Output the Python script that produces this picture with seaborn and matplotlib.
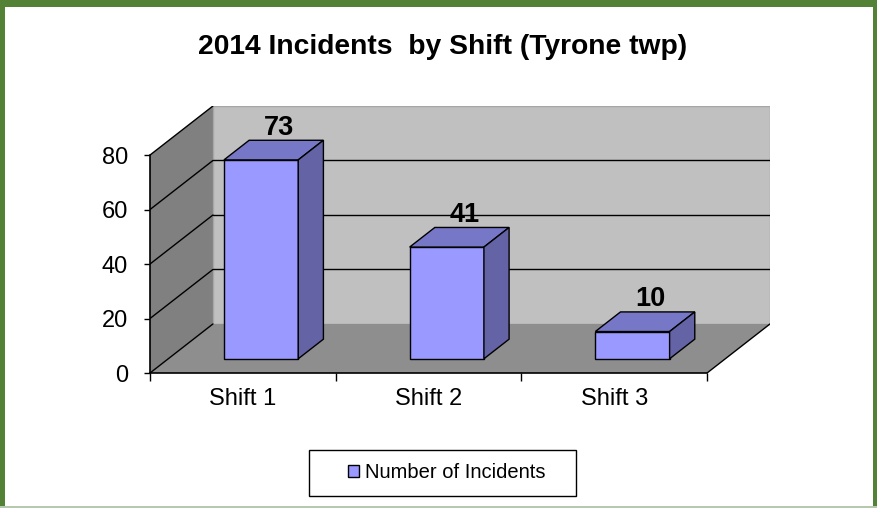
import matplotlib
matplotlib.use("Agg")
import matplotlib.pyplot as plt
from matplotlib.patches import Polygon, Rectangle
import pandas as pd
import seaborn as sns

# Data
shifts = ["Shift 1", "Shift 2", "Shift 3"]
incidents = [73, 41, 10]
y_ticks = [0, 20, 40, 60, 80]
title = "2014 Incidents  by Shift (Tyrone twp)"
series_name = "Number of Incidents"

sns.set_theme(style="white")
plt.rcParams["font.family"] = ["Liberation Sans", "DejaVu Sans"]
plt.rcParams["text.color"] = "black"

df = pd.DataFrame({"Shift": shifts, "Incidents": incidents})

W, H = 878, 508
fig = plt.figure(figsize=(W / 100, H / 100), dpi=100)
ax = fig.add_axes([150 / W, (H - 373) / H, 620 / W, (373 - 106) / H])
ax.set_facecolor("none")

# oblique depth of the fake 3d box, in data units
DX, DY = 0.339, 18.0
ymax = y_ticks[-1]

sns.barplot(data=df, x="Shift", y="Incidents", width=0.4, color="#9999FF",
            saturation=1, edgecolor="black", linewidth=1, label=series_name,
            ax=ax, zorder=3)
bars = list(ax.patches)
handles, labels = ax.get_legend_handles_labels()
if ax.get_legend() is not None:
    ax.get_legend().remove()

# bars sit between these depth fractions
d0, d1 = 0.29, 0.69
ddx, ddy = (d1 - d0) * DX, (d1 - d0) * DY
for p in bars:
    x0 = p.get_x() + d0 * DX
    y0 = d0 * DY
    p.set_x(x0)
    p.set_y(y0)
    w, h = p.get_width(), p.get_height()
    top = Polygon([(x0, y0 + h), (x0 + w, y0 + h), (x0 + w + ddx, y0 + h + ddy),
                   (x0 + ddx, y0 + h + ddy)], fc="#7777C8", ec="black", lw=1, zorder=3)
    side = Polygon([(x0 + w, y0), (x0 + w + ddx, y0 + ddy), (x0 + w + ddx, y0 + h + ddy),
                    (x0 + w, y0 + h)], fc="#6363A5", ec="black", lw=1, zorder=3)
    ax.add_patch(top)
    ax.add_patch(side)
    ax.text(x0 + w / 2 + ddx * 0.7, y0 + h + ddy + 2, f"{h:.0f}", ha="center", va="baseline",
            fontsize=19.5, fontweight="bold", color="black", zorder=4)

# walls and floor
x_l, x_r = -0.5, len(shifts) - 0.5
ax.add_patch(Polygon([(x_l + DX, DY), (x_r + DX, DY), (x_r + DX, ymax + DY), (x_l + DX, ymax + DY)],
                     fc="#C0C0C0", ec="#A6A6A6", lw=1, zorder=0.5))
ax.add_patch(Polygon([(x_l, 0), (x_l + DX, DY), (x_l + DX, ymax + DY), (x_l, ymax)],
                     fc="#808080", ec="none", zorder=0.6))
ax.add_patch(Polygon([(x_l, 0), (x_r, 0), (x_r + DX, DY), (x_l + DX, DY)],
                     fc="#8E8E8E", ec="none", zorder=0.6))
for v in y_ticks:
    ax.plot([x_l, x_l + DX], [v, v + DY], color="black", lw=1, zorder=0.8)
    if 0 < v < ymax:
        ax.plot([x_l + DX, x_r + DX], [v + DY, v + DY], color="black", lw=1, zorder=0.8)
ax.plot([x_r, x_r + DX], [0, DY], color="black", lw=1, zorder=0.8)

ax.set_xlim(x_l, x_r + DX)
ax.set_ylim(0, ymax + DY)
ax.grid(False)
ax.set_xlabel("")
ax.set_ylabel("")

ax.set_yticks(y_ticks)
ax.set_xticks(range(len(shifts)), shifts)
ax.set_xticks([x_l + i for i in range(len(shifts) + 1)], minor=True)
ax.tick_params(axis="x", which="major", length=0, pad=11, labelsize=17,
               labelcolor="black")
ax.tick_params(axis="x", which="minor", length=6, width=1, color="black",
               direction="out", bottom=True)
ax.tick_params(axis="y", length=4, width=1, color="black", direction="out", left=True,
               pad=12, labelsize=17, labelcolor="black")

for s in ["top", "right"]:
    ax.spines[s].set_visible(False)
ax.spines["left"].set_bounds(0, ymax)
ax.spines["bottom"].set_bounds(x_l, x_r)
for s in ["left", "bottom"]:
    ax.spines[s].set_color("black")
    ax.spines[s].set_linewidth(1.2)

# Decorations
fig.text(443 / W, 1 - 47 / H, title, ha="center", va="center",
         fontsize=20.3, fontweight="bold", color="black")

fig.legend(handles, labels, loc="center", bbox_to_anchor=(447 / W, 1 - 473 / H),
           frameon=False, fontsize=14.5, handlelength=0.55, handleheight=0.55,
           handletextpad=0.3, labelcolor="black")
fig.add_artist(Rectangle((309 / W, (H - 496) / H), 267 / W, 46 / H,
                         transform=fig.transFigure, fill=False, ec="black", lw=1))

# green frame
green = "#538135"
fig.add_artist(Rectangle((0, (H - 7) / H), 1, 7 / H, transform=fig.transFigure, fc=green, ec="none"))
fig.add_artist(Rectangle((0, 0), 5 / W, 1, transform=fig.transFigure, fc=green, ec="none"))
fig.add_artist(Rectangle(((W - 5) / W, 0), 5 / W, 1, transform=fig.transFigure, fc=green, ec="none"))
fig.add_artist(Rectangle((0, 0), 1, 2 / H, transform=fig.transFigure, fc="#B5C9AE", ec="none"))

fig.savefig("out.png", dpi=100)
